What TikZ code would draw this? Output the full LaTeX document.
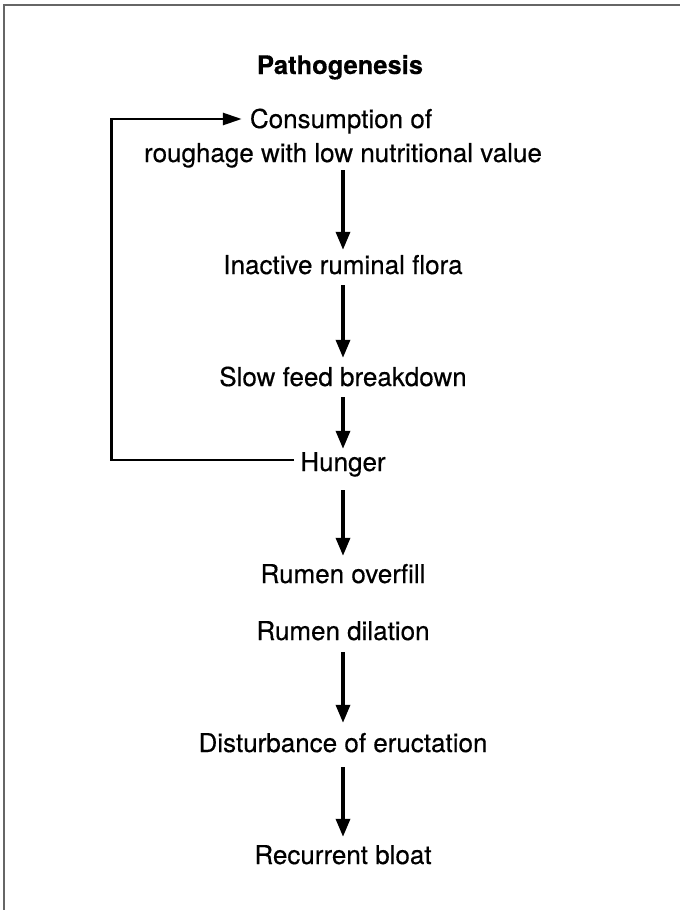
\documentclass[tikz,border=0pt]{standalone}
\usepackage{fontspec}
\setmainfont{TeX Gyre Heros}[FakeBold=0.4]
\newfontfamily\titlefont{TeX Gyre Heros}[FakeBold=0.3]
\usetikzlibrary{arrows.meta}
\begin{document}
\begin{tikzpicture}[x=1pt,y=-1pt,
  lbl/.style={font=\fontsize{26}{31}\selectfont, inner sep=0pt, text height=19pt, text depth=5pt, anchor=base},
  flow/.style={line width=3.4pt, -{Triangle[length=18pt,width=14pt]}},
  fb/.style={line width=2.8pt, -{Triangle[length=19pt,width=12pt]}},
  frameline/.style={line width=1.5pt, draw=black!60}]
\useasboundingbox (0,0) rectangle (680,910);
\draw[frameline] (4,910) -- (4,5) -- (680,5);
\node[lbl, font=\fontsize{25.5}{30}\titlefont\bfseries] (title) at (340,74) {Pathogenesis};
\node[lbl] (cons1) at (341,128) {Consumption of};
\node[lbl] (cons2) at (343,162) {roughage with low nutritional value};
\node[lbl] (flora) at (343,274) {Inactive ruminal flora};
\node[lbl] (slow) at (343,386) {Slow feed breakdown};
\node[lbl] (hunger) at (343,471) {Hunger};
\node[lbl] (overfill) at (343,583) {Rumen overfill};
\node[lbl] (dilation) at (343,640) {Rumen dilation};
\node[lbl] (eruct) at (343,752) {Disturbance of eructation};
\node[lbl] (bloat) at (343,864) {Recurrent bloat};
\draw[flow, shorten <=3pt, shorten >=5pt] (cons2.south) -- (flora.north);
\draw[flow, shorten <=6pt, shorten >=9pt] (flora.south) -- (slow.north);
\draw[flow, shorten <=6pt, shorten >=3pt] (slow.south) -- (hunger.north);
\draw[flow, shorten <=14pt, shorten >=8pt] (hunger.south) -- (overfill.north);
\draw[flow, shorten <=7pt, shorten >=10pt] (dilation.south) -- (eruct.north);
\draw[flow, shorten <=10pt, shorten >=8pt] (eruct.south) -- (bloat.north);
\draw[fb] ([xshift=-6pt,yshift=4pt]hunger.west) -- ++(-183,0) |- ([xshift=-8pt,yshift=2pt]cons1.west);
\end{tikzpicture}
\end{document}
